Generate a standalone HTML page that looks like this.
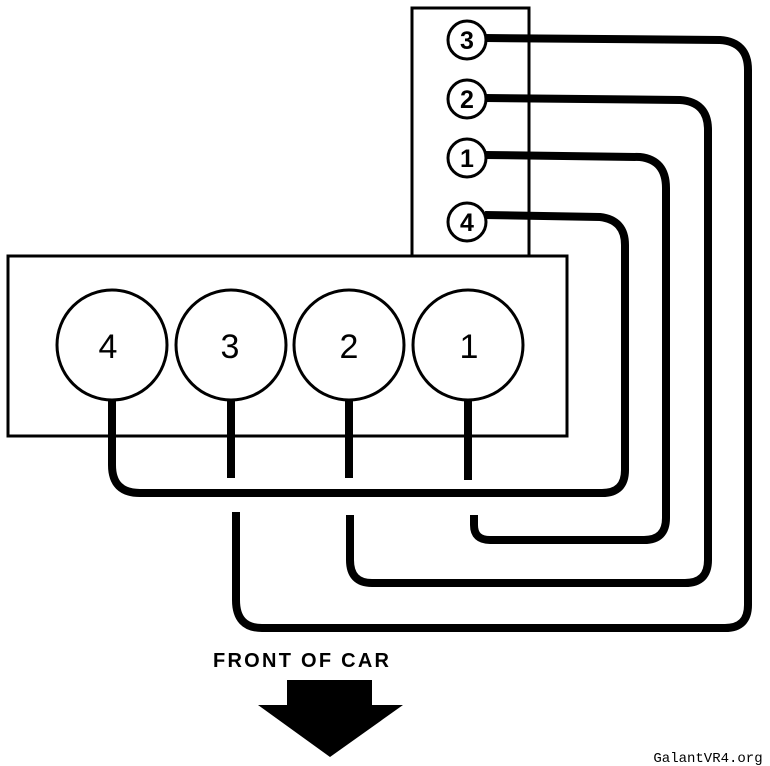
<!DOCTYPE html>
<html><head><style>
html,body{margin:0;padding:0;background:#fff;width:770px;height:766px;overflow:hidden}
</style></head><body>
<svg width="770" height="766" viewBox="0 0 770 766" xmlns="http://www.w3.org/2000/svg">
<g fill="none" stroke="#000">
<rect x="8" y="256" width="559" height="180" stroke-width="3" fill="#fff"/>
<circle cx="112" cy="345" r="55" stroke-width="3"/>
<circle cx="231" cy="345" r="55" stroke-width="3"/>
<circle cx="349" cy="345" r="55" stroke-width="3"/>
<circle cx="468" cy="345" r="55" stroke-width="3"/>
<g stroke-width="8" stroke-linejoin="round">
<path d="M485 38 L720 40 Q748 42 748 70 L748 605 Q748 628 725 628 L262 628 Q236 628 236 600 L236 512"/>
<path d="M485 98 L680 100 Q708 102 708 130 L708 560 Q708 583 685 583 L372 583 Q350 583 350 560 L350 515"/>
<path d="M485 155 L640 157 Q666 160 666 188 L666 518 Q666 540 644 540 L490 540 Q474 540 474 525 L474 515"/>
<path d="M485 215 L600 217 Q625 220 625 245 L625 470 Q625 493 602 493 L140 493 Q112 493 112 465 L112 400"/>
<path d="M231 400 L231 478 M349 400 L349 478 M468 400 L468 480"/>
</g>
<rect x="412" y="8" width="117" height="248" stroke-width="3"/>
<g fill="#fff" stroke-width="3">
<circle cx="467" cy="40" r="19"/>
<circle cx="467" cy="99" r="19"/>
<circle cx="467" cy="158" r="19"/>
<circle cx="467" cy="222" r="19"/>
</g>
</g>
<g font-family="Liberation Sans, sans-serif" font-size="34" text-anchor="middle">
<text x="108" y="358">4</text><text x="230" y="358">3</text><text x="349" y="358">2</text><text x="469" y="358">1</text>
</g>
<g font-family="Liberation Sans, sans-serif" font-size="25" font-weight="bold" text-anchor="middle">
<text x="467" y="49">3</text><text x="467" y="108">2</text><text x="467" y="167">1</text><text x="467" y="231">4</text>
</g>
<text x="301" y="667" font-family="Liberation Sans, sans-serif" font-size="20" font-weight="bold" text-anchor="middle" textLength="176">FRONT OF CAR</text>
<path d="M287 680 L372 680 L372 705 L403 705 L330 757 L258 705 L287 705 Z" fill="#000"/>
<text x="708" y="762" font-family="Liberation Mono, monospace" font-size="14" text-anchor="middle">GalantVR4.org</text>
</svg>
</body></html>
